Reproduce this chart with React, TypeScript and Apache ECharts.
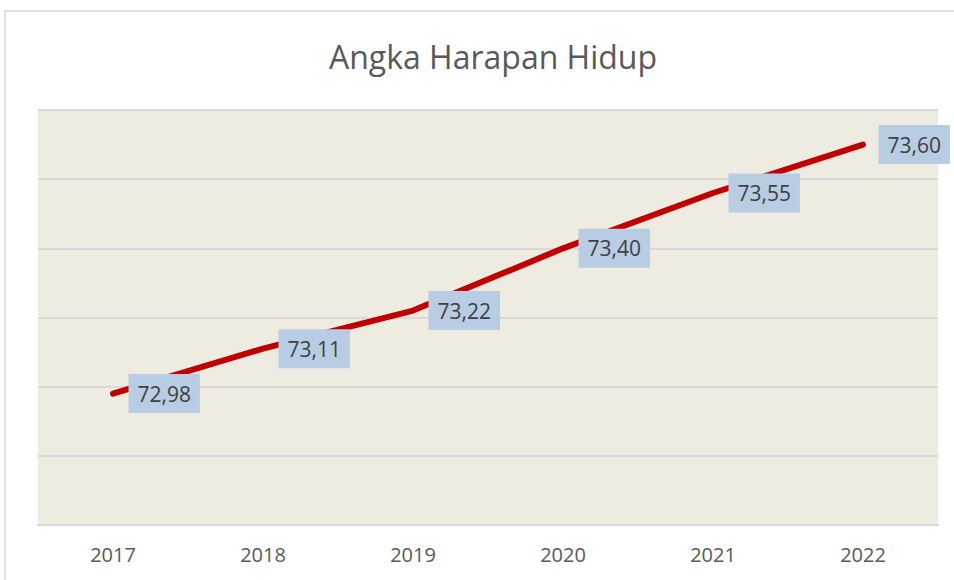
import React, { useEffect, useRef } from "react";
import * as echarts from "echarts";

const categories = ["2017", "2018", "2019", "2020", "2021", "2022"];
const values = [72.98, 73.11, 73.22, 73.4, 73.56, 73.7];
const labelTexts = ["72,98", "73,11", "73,22", "73,40", "73,55", "73,60"];
const titleText = "Angka Harapan Hidup";

export default function App() {
  const ref = useRef<HTMLDivElement>(null);
  useEffect(() => {
    const chart = echarts.init(ref.current!, null, { renderer: "svg" });
    chart.setOption({
      animation: false,
      textStyle: { fontFamily: "Open Sans" },
      title: {
        text: titleText,
        left: 488,
        textAlign: "center",
        top: 35,
        textStyle: { fontSize: 32, fontWeight: "normal", color: "#595959", fontFamily: "Open Sans" },
      },
      graphic: [
        {
          type: "rect",
          shape: { x: 5, y: 11, width: 1000, height: 700 },
          style: { fill: "none", stroke: "#D9D9D9", lineWidth: 1.5 },
          silent: true,
          z: -10,
        },
      ],
      grid: {
        left: 38,
        right: 16,
        top: 110,
        bottom: 55,
        show: true,
        backgroundColor: "#EEECE1",
        borderWidth: 0,
      },
      xAxis: {
        type: "category",
        data: categories,
        boundaryGap: true,
        axisTick: { show: false },
        axisLine: { lineStyle: { color: "#D9D9D9", width: 2 } },
        axisLabel: { color: "#595959", fontSize: 20, margin: 19, fontFamily: "Open Sans" },
      },
      yAxis: {
        type: "value",
        min: 72.6,
        max: 73.8,
        interval: 0.2,
        axisLabel: { show: false },
        axisLine: { show: false },
        axisTick: { show: false },
        splitLine: { lineStyle: { color: "#D9D9D9", width: 2 } },
      },
      series: [
        {
          type: "line",
          data: values,
          symbol: "circle",
          symbolSize: 1,
          showSymbol: true,
          itemStyle: { color: "rgba(0,0,0,0)" },
          lineStyle: { color: "#C00000", width: 6, cap: "round", join: "round" },
          label: {
            show: true,
            position: "right",
            distance: 15,
            formatter: (p: any) => labelTexts[p.dataIndex],
            backgroundColor: "#B8CCE4",
            padding: [9, 9, 9, 9],
            color: "#404040",
            fontSize: 21,
            fontFamily: "Open Sans",
          },
        },
      ],
    });
    return () => chart.dispose();
  }, []);
  return (
    <div
      ref={ref}
      style={{ position: "fixed", left: 0, top: 0, width: 954, height: 580, background: "#fff" }}
    />
  );
}
